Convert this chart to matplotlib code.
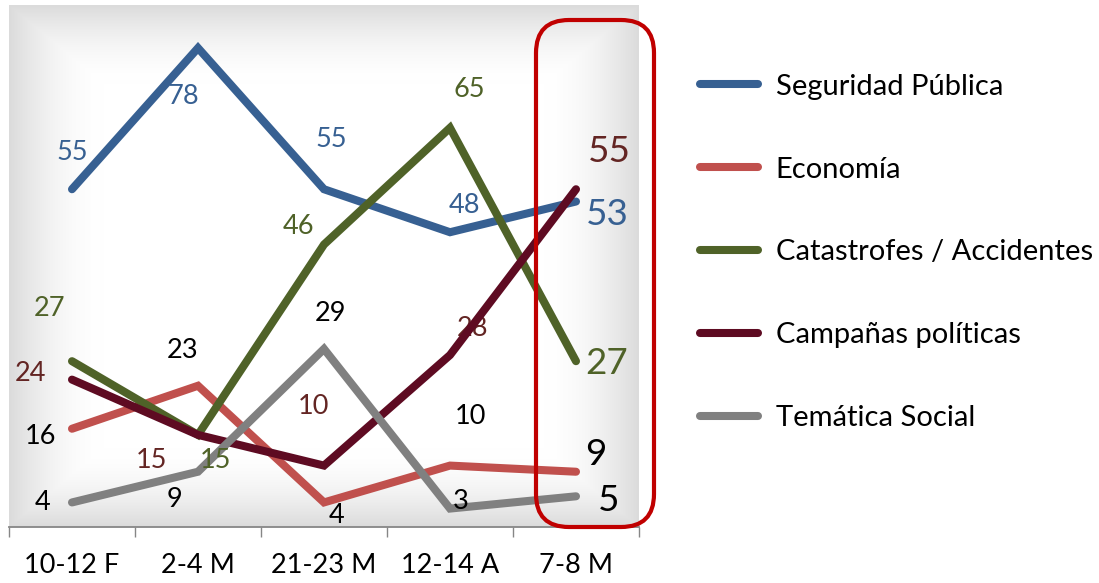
import numpy as np
import matplotlib.pyplot as plt
from matplotlib.lines import Line2D
from matplotlib.patches import FancyBboxPatch

plt.rcParams['font.family'] = ['Lato', 'DejaVu Sans']

# data
categories = ['10-12 F', '2-4 M', '21-23 M', '12-14 A', '7-8 M']
series_names = ['Seguridad Pública', 'Economía', 'Catastrofes / Accidentes',
                'Campañas políticas', 'Temática Social']
seguridad = [55, 78, 55, 48, 53]
economia = [16, 23, 4, 10, 9]
catastrofes = [27, 15, 46, 65, 27]
campanas = [24, 15, 10, 28, 55]
tematica = [4, 9, 29, 3, 5]
all_values = [seguridad, economia, catastrofes, campanas, tematica]

line_colors = ['#376092', '#C0504D', '#4F6228', '#5E0B22', '#808080']
label_colors = ['#376092', '#000000', '#4F6228', '#632523', '#000000']

# label offsets in pixels from each point (excel moved labels by hand)
label_offsets = [
    [(0, 37), (-15, -49), (7, 50), (14, 27), (31, -13)],
    [(-32, -8), (-15, 35), (13, -13), (20, 49), (20, 17)],
    [(-22, 53), (17, -26), (-26, 18), (19, 38), (31, -2)],
    [(-42, 6), (-47, -26), (-11, 59), (22, 27), (33, 38)],
    [(-29, 0), (-24, -28), (7, 35), (11, 7), (33, -4)],
]

fig = plt.figure(figsize=(10.99, 5.83), dpi=100)
ax = fig.add_axes([9 / 1099, 56 / 583, 630 / 1099, 522 / 583])

# gradient panel, gray edges to white centre
gx, gy = np.meshgrid(np.linspace(-1, 1, 400), np.linspace(-1, 1, 400))
t = np.maximum(np.abs(gx), np.abs(gy))
shade = 1 - 0.14 * np.clip((t - 0.7) / 0.3, 0, 1) ** 1.8
ax.imshow(np.dstack([shade] * 3), extent=(0, 1, 0, 1), transform=ax.transAxes,
          aspect='auto', zorder=0, interpolation='bilinear')

x = np.arange(len(categories))
for i, vals in enumerate(all_values):
    ax.plot(x, vals, color=line_colors[i], lw=5.8, solid_capstyle='round',
            solid_joinstyle='miter', zorder=3 + i, label=series_names[i])
    for j, v in enumerate(vals):
        big = j == len(vals) - 1
        ax.annotate(str(v), (x[j], v), xytext=label_offsets[i][j],
                    textcoords='offset pixels', ha='center', va='center',
                    fontsize=26.5 if big else 19.5, color=label_colors[i],
                    zorder=2.5 if i == 3 else 10)

ax.set_xlim(-0.5, 4.5)
ax.set_ylim(0, 85)
for s in ['top', 'left', 'right']:
    ax.spines[s].set_visible(False)
ax.spines['bottom'].set_color('#868686')
ax.spines['bottom'].set_linewidth(1.3)
ax.set_yticks([])
ax.set_xticks(np.arange(-0.5, 5, 1))
ax.set_xticklabels([])
ax.tick_params(axis='x', which='major', length=7, width=1, color='#868686', direction='out')
ax.set_xticks(x, minor=True)
ax.set_xticklabels(categories, minor=True, fontsize=19.5)
ax.tick_params(axis='x', which='minor', length=0, pad=19)

handles = [Line2D([], [], color=c, lw=5.8, solid_capstyle='round') for c in line_colors]
fig.legend(handles, series_names, loc='upper left', bbox_to_anchor=(688 / 1099, 1 - 62 / 583),
           frameon=False, fontsize=21, handlelength=2.0, handletextpad=0.6,
           labelspacing=1.95, borderaxespad=0)

# red highlight box around the last category
box = FancyBboxPatch((536 / 1099, 1 - 527 / 583), 118 / 1099, 507 / 583,
                     boxstyle='round,pad=0,rounding_size=0.03', transform=fig.transFigure,
                     fill=False, edgecolor='#C00000', lw=3, zorder=20,
                     mutation_aspect=1099 / 583)
fig.patches.append(box)

fig.savefig('out.png', dpi=100)
